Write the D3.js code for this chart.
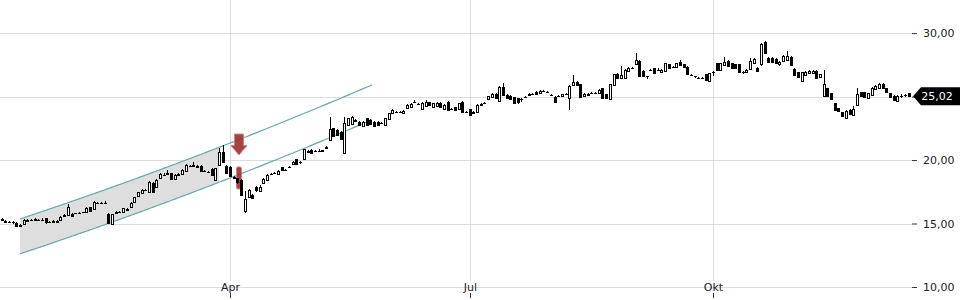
<!DOCTYPE html>
<html><head><meta charset="utf-8">
<script src="https://cdn.jsdelivr.net/npm/d3@7"></script>
<style>body{margin:0;background:#fff}svg{display:block}</style>
</head><body><svg id="c" width="960" height="300"></svg>
<script>
// ---- data (daily candles, trading-day index) ----
const open = [15.32,15.22,15.14,15.10,15.05,14.92,14.95,15.28,15.26,15.30,15.30,15.30,15.40,15.10,15.16,15.12,15.28,15.60,15.65,15.75,15.80,15.86,15.86,15.90,16.30,16.12,16.62,16.62,16.62,15.75,
14.96,15.84,15.92,15.93,16.18,16.33,16.64,17.12,17.38,17.62,17.51,18.20,17.90,18.57,18.85,18.95,18.96,18.50,18.88,18.90,
19.16,19.50,19.58,19.55,19.53,19.12,19.08,19.30,18.43,19.61,20.60,19.53,19.48,18.65,18.58,18.43,15.95,17.07,17.25,17.86,
17.60,18.20,18.43,18.88,18.94,18.90,19.43,19.20,19.40,19.69,20.06,19.85,20.07,20.70,20.80,20.70,20.72,20.72,21.00,21.58,
22.50,22.37,22.24,20.54,22.77,22.90,23.10,23.02,22.70,23.30,23.16,23.02,23.02,22.90,22.77,23.20,23.70,23.80,23.80,23.72,
24.08,24.18,24.52,24.45,24.08,24.26,24.55,24.15,24.28,24.52,24.00,24.60,24.00,24.16,24.00,24.60,23.80,24.00,23.75,23.77,
24.38,24.48,24.82,25.03,25.20,24.68,25.78,25.13,25.05,24.95,24.87,24.80,24.95,25.18,25.20,25.39,25.30,25.42,25.36,25.15,
25.00,25.05,24.99,25.20,24.90,25.92,26.18,25.97,24.99,25.20,25.24,25.26,25.25,25.66,25.18,24.80,25.86,26.76,26.45,26.50,
26.97,27.26,27.55,27.81,27.02,26.60,27.08,27.23,27.08,26.92,27.02,27.55,27.32,27.28,27.75,27.55,27.36,26.72,26.60,26.50,
26.47,26.76,26.18,26.95,27.63,27.10,27.55,27.81,27.63,27.55,27.55,26.94,26.92,27.18,27.65,27.28,27.55,29.28,28.07,28.05,
27.97,27.60,27.81,27.89,28.15,27.18,26.92,26.18,26.76,26.90,26.90,27.02,26.50,25.00,25.66,25.26,24.47,24.08,23.77,23.35,
23.95,23.55,24.34,25.34,25.34,24.87,25.18,25.60,25.66,25.97,25.66,25.26,25.08,24.66,25.06,25.10,25.25];
const high = [15.45,15.28,15.20,15.18,15.10,15.00,15.32,15.32,15.34,15.42,15.36,15.40,15.45,15.20,15.26,15.26,15.60,15.72,16.50,15.80,15.86,15.90,15.92,16.28,16.32,16.75,16.70,16.72,16.74,15.80,
15.78,15.95,16.00,16.26,16.22,16.68,17.10,17.50,17.70,17.70,18.35,18.25,18.48,18.95,18.95,19.20,19.00,18.88,18.98,19.26,
19.66,19.60,19.85,19.60,19.60,19.20,19.15,19.35,19.40,20.95,21.20,19.58,19.50,18.72,18.62,18.48,17.60,17.70,17.30,17.95,
18.00,18.55,18.90,18.98,19.05,19.18,19.48,19.30,19.50,19.90,20.10,19.92,20.90,20.82,20.85,20.80,20.85,20.82,21.10,23.42,
22.55,22.42,22.30,23.42,23.35,23.50,23.25,23.10,23.05,23.35,23.20,23.05,23.08,23.00,23.35,23.72,24.00,23.90,23.88,23.92,
24.38,24.46,24.70,24.50,24.58,24.70,24.60,24.50,24.58,24.58,24.40,24.65,24.08,24.20,24.52,24.65,23.88,24.05,23.88,24.40,
24.50,24.58,25.08,25.30,25.28,25.82,26.10,25.20,25.10,25.00,24.90,24.88,25.05,25.30,25.32,25.42,25.50,25.50,25.42,25.20,
25.05,25.12,25.22,25.30,25.92,26.72,26.25,26.02,25.25,25.32,25.33,25.34,25.58,25.70,25.22,26.00,26.80,26.82,27.40,27.15,
27.30,27.35,28.42,27.86,27.08,26.65,27.20,27.28,27.22,27.15,27.68,27.60,27.42,27.68,27.90,27.60,27.40,26.78,26.66,26.58,
26.55,26.80,26.88,27.05,27.68,27.68,28.15,27.86,27.68,27.60,27.60,27.00,27.15,28.05,28.02,27.32,29.20,29.38,28.12,28.10,
28.02,27.80,28.28,28.60,28.20,27.22,26.96,26.96,27.00,27.10,27.10,27.08,26.80,27.10,25.70,25.30,24.52,24.12,23.82,23.92,
24.00,24.28,25.68,25.38,25.38,25.30,25.76,25.90,26.08,26.05,25.70,25.30,25.12,25.12,25.18,25.22,25.30];
const low = [15.25,15.12,15.05,15.00,14.80,14.78,14.90,15.18,15.20,15.28,15.22,15.20,15.00,15.02,15.12,15.10,15.25,15.55,15.60,15.55,15.76,15.80,15.82,15.88,15.95,16.10,16.58,16.56,16.55,14.95,
14.90,15.80,15.86,15.90,16.06,16.30,16.60,17.08,17.35,17.55,17.45,17.45,17.85,18.50,18.78,18.85,18.45,18.45,18.84,18.86,
19.12,19.45,19.55,19.45,19.10,19.05,19.00,18.75,18.38,19.55,19.80,18.95,18.70,18.55,18.15,17.20,15.85,17.00,16.90,17.50,
17.55,18.15,18.40,18.82,18.90,18.86,19.12,19.15,19.35,19.65,19.65,19.70,20.00,20.65,20.50,20.65,20.68,20.66,20.95,21.50,
21.85,21.92,21.65,20.50,22.70,22.85,23.05,22.70,22.65,22.70,22.80,22.65,22.72,22.85,22.72,23.15,23.65,23.75,23.72,23.68,
24.00,24.15,24.50,24.38,24.05,24.22,24.22,24.10,24.25,24.15,23.95,23.90,23.92,23.85,23.95,23.78,23.70,23.50,23.68,23.72,
24.35,24.45,24.78,25.00,24.85,24.60,25.08,24.80,24.72,24.42,24.40,24.60,24.90,25.15,25.15,25.15,25.25,25.38,25.28,25.05,
24.55,24.98,24.95,25.15,23.95,25.88,25.85,24.85,24.95,25.15,25.18,25.20,25.20,24.85,24.82,24.75,25.80,26.40,26.40,26.45,
26.90,27.20,27.50,26.60,26.60,26.40,27.00,26.80,27.00,26.88,26.98,27.18,27.28,27.25,27.45,27.22,26.80,26.62,26.50,26.40,
26.42,26.28,26.15,26.60,27.05,27.05,27.50,27.40,27.20,27.20,26.88,26.78,26.88,27.15,27.60,26.98,27.40,28.38,27.70,27.68,
27.58,27.40,27.78,27.85,27.50,26.68,26.45,26.15,26.72,26.85,26.85,26.45,26.45,24.95,24.95,24.78,23.90,23.75,23.38,23.30,
23.58,23.50,24.30,24.95,24.88,24.82,25.15,25.55,25.62,25.60,25.30,24.88,24.70,24.62,24.90,25.00,24.98];
const close = [15.28,15.18,15.12,15.08,14.85,14.85,15.28,15.22,15.28,15.35,15.28,15.28,15.05,15.12,15.20,15.22,15.55,15.65,16.30,15.60,15.82,15.85,15.88,16.25,15.98,16.70,16.64,16.64,16.64,15.02,
15.75,15.90,15.94,16.22,16.10,16.64,17.07,17.46,17.64,17.60,18.30,17.51,18.43,18.90,18.82,18.90,18.49,18.83,18.92,19.22,
19.61,19.53,19.62,19.50,19.16,19.10,19.07,18.80,19.35,20.66,19.85,19.00,18.75,18.60,18.30,17.25,16.90,17.64,16.99,17.59,
17.90,18.49,18.83,18.90,18.96,19.14,19.16,19.22,19.43,19.87,19.69,19.87,20.85,20.74,20.58,20.72,20.74,20.76,21.06,22.43,
21.90,21.98,21.72,22.90,23.30,23.42,23.15,22.77,23.00,22.77,22.85,22.69,22.77,22.93,23.30,23.68,23.95,23.82,23.79,23.88,
24.34,24.42,24.55,24.42,24.52,24.60,24.28,24.47,24.52,24.20,24.34,23.95,24.00,23.90,24.47,23.82,23.78,23.55,23.80,24.34,
24.42,24.50,25.03,25.24,24.90,25.76,25.13,24.87,24.79,24.48,24.52,24.80,24.98,25.22,25.22,25.21,25.44,25.44,25.34,25.13,
24.60,25.08,25.18,25.23,25.86,26.18,25.92,24.91,25.18,25.24,25.26,25.27,25.52,24.91,24.87,25.97,26.76,26.45,26.71,27.10,
27.23,27.28,27.89,26.65,26.65,26.57,27.10,26.84,27.10,27.10,27.63,27.23,27.34,27.63,27.49,27.28,26.84,26.70,26.58,26.49,
26.49,26.31,26.84,26.97,27.10,27.63,27.75,27.44,27.23,27.23,26.92,26.92,27.10,27.81,27.95,27.02,29.13,28.42,27.76,27.73,
27.63,27.75,28.23,28.23,27.55,26.71,26.49,26.92,26.97,27.05,27.05,26.50,26.76,25.97,25.00,24.81,23.95,23.81,23.42,23.87,
23.63,24.03,25.18,25.00,24.92,25.26,25.71,25.86,25.97,25.66,25.34,24.92,24.74,25.08,25.08,25.12,25.02];

const monthTickIndex = [62, 127, 193];
const monthLabels = ["Apr", "Jul", "Okt"];
const priceTicks = [10, 15, 20, 25, 30];
const lastPrice = 25.02;

// trend channel: upper-line anchor points (index, price) and channel width in price
const channelIndex = [5, 59, 100.5];
const channelUpper = [15.36, 21.00, 25.92];
const channelWidth = 2.75;
const channelFillEnd = 59;

// sell signal marker
const signalIndex = 64;
const signalArrowTop = 22.05, signalArrowTip = 20.40;
const signalBarTop = 19.46, signalBarBottom = 17.72;

// ---- drawing ----
const svg = d3.select("#c");
const W = 960, plotRight = 912, yTop = 33.1, yBottom = 287;
const x = d3.scaleLinear().domain([0, close.length - 1]).range([1.5, 908.5]);
const y = d3.scaleLinear().domain([10, 30]).range([yBottom, yTop]);
const font = "'DejaVu Sans', Verdana, sans-serif";

// grid
const grid = svg.append("g").attr("stroke", "#dcdcdc").attr("stroke-width", 1).attr("shape-rendering", "crispEdges");
grid.selectAll("line.h").data(priceTicks).join("line").attr("class","h")
  .attr("x1", 0).attr("x2", plotRight).attr("y1", d => Math.round(y(d)) + 0.5).attr("y2", d => Math.round(y(d)) + 0.5);
grid.selectAll("line.v").data(monthTickIndex).join("line").attr("class","v")
  .attr("x1", d => Math.round(x(d)) + 0.5).attr("x2", d => Math.round(x(d)) + 0.5).attr("y1", 0).attr("y2", 281);

// channel (smooth curve through the three upper anchors, lower = upper - width)
const [i0, i1, i2] = channelIndex, [p0, p1, p2] = channelUpper;
const cb = (p1 - p0) / (i1 - i0);
const cc = (p2 - p0 - cb * (i2 - i0)) / ((i2 - i0) * (i2 - i1));
const up = i => p0 + cb * (i - i0) + cc * (i - i0) * (i - i1);
const lo = i => up(i) - channelWidth;
const fillIdx = d3.range(i0, channelFillEnd + 0.001, 1);
const lineIdx = d3.range(i0, i2 + 0.001, 0.5);
const area = d3.area().x(i => x(i)).y0(i => y(lo(i))).y1(i => y(up(i)));
svg.append("path").attr("d", area(fillIdx)).attr("fill", "#dedede");
svg.append("path").attr("d", d3.line().x(i => x(i)).y(i => y(up(i)))(lineIdx))
  .attr("stroke", "#6aa7ad").attr("stroke-width", 1.2).attr("fill", "none");
svg.append("path").attr("d", d3.line().x(i => x(i)).y(i => y(lo(i)))(lineIdx))
  .attr("stroke", "#6aa7ad").attr("stroke-width", 1.2).attr("fill", "none");

// signal
const sx = x(signalIndex) + 1.5;
const aTop = y(signalArrowTop), aTip = y(signalArrowTip), aMid = aTop + (aTip - aTop) * 0.55;
svg.append("path")
  .attr("d", `M${sx-4.5},${aTop} L${sx+4.5},${aTop} L${sx+4.5},${aMid} L${sx+8},${aMid} L${sx},${aTip} L${sx-8},${aMid} L${sx-4.5},${aMid} Z`)
  .attr("fill", "#9e2f2f").attr("stroke", "#c77").attr("stroke-width", 1).attr("opacity", 0.9);
svg.append("rect").attr("x", sx - 2.5).attr("width", 5).attr("y", y(signalBarTop)).attr("height", y(signalBarBottom) - y(signalBarTop))
  .attr("rx", 1.5).attr("fill", "#9e2f2f").attr("stroke", "#c77").attr("opacity", 0.9);

// candles
const idx = d3.range(close.length);
const cg = svg.append("g");
const cx = i => Math.round(x(i)) + 0.5;
cg.selectAll("line").data(idx).join("line")
  .attr("x1", cx).attr("x2", cx)
  .attr("y1", i => Math.round(y(high[i]))).attr("y2", i => Math.round(y(low[i])))
  .attr("stroke", "#000");
cg.selectAll("rect").data(idx).join("rect")
  .attr("x", i => cx(i) - 1)
  .attr("width", 2)
  .attr("y", i => Math.round(Math.min(y(open[i]), y(close[i]))) + 0.5)
  .attr("height", i => Math.max(0.01, Math.round(Math.abs(y(open[i]) - y(close[i])))))
  .attr("fill", i => close[i] >= open[i] ? "#fff" : "#000")
  .attr("stroke", "#000").attr("stroke-width", 1);

// y axis
const yAxis = d3.axisRight(y).tickValues(priceTicks).tickSize(5).tickPadding(6)
  .tickFormat(d => d3.format(".2f")(d).replace(".", ","));
const ya = svg.append("g").attr("transform", `translate(${plotRight},0)`).call(yAxis);
ya.select(".domain").remove();
ya.selectAll("line").attr("stroke", "#333");
ya.selectAll("text").attr("font-family", font).attr("font-size", 11).attr("fill", "#222");

// x axis labels & ticks
const xa = svg.append("g");
xa.selectAll("text").data(monthTickIndex).join("text")
  .attr("x", d => Math.round(x(d)) + 0.5).attr("y", 287).attr("dy", "0.35em")
  .attr("text-anchor", "middle").attr("font-family", font).attr("font-size", 11).attr("fill", "#222")
  .text((d, k) => monthLabels[k]);
xa.selectAll("line").data(monthTickIndex).join("line")
  .attr("x1", d => Math.round(x(d)) + 0.5).attr("x2", d => Math.round(x(d)) + 0.5)
  .attr("y1", 293).attr("y2", 298).attr("stroke", "#333");

// last price label
const ly = y(lastPrice);
const lg = svg.append("g");
lg.append("path").attr("d", `M${plotRight+1},${ly} L${plotRight+9},${ly-9} L${W},${ly-9} L${W},${ly+9} L${plotRight+9},${ly+9} Z`).attr("fill", "#000");
lg.append("text").attr("x", 937).attr("y", ly).attr("dy", "0.35em").attr("text-anchor", "middle")
  .attr("font-family", font).attr("font-size", 11).attr("fill", "#fff").text(d3.format(".2f")(lastPrice).replace(".", ","));
</script></body></html>
